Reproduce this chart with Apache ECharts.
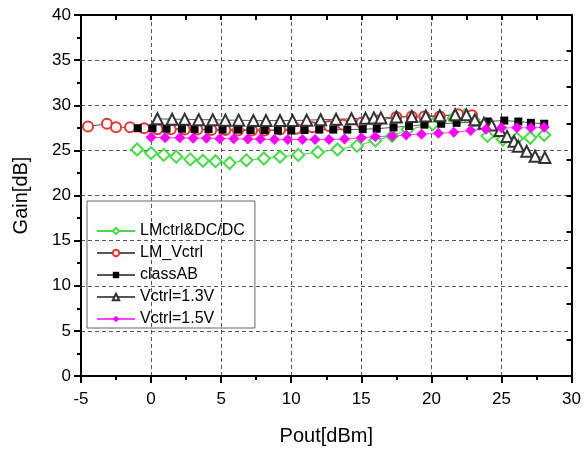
<!DOCTYPE html>
<html>
<head>
<meta charset="utf-8">
<script src="https://cdn.jsdelivr.net/npm/echarts@6/dist/echarts.min.js"></script>
<style>
  html, body { margin: 0; padding: 0; background: #fff; }
  #chart { width: 584px; height: 451px; }
</style>
</head>
<body>
<div id="chart"></div>
<script>
// Pout[dBm], Gain[dB]
var lmDcdc = [[-1, 25.1], [0, 24.7], [0.9, 24.5], [1.8, 24.3], [2.8, 24.0], [3.7, 23.85], [4.6, 23.8], [5.6, 23.6],
  [6.8, 23.9], [8.05, 24.1], [9.2, 24.3], [10.5, 24.5], [11.9, 24.8], [13.3, 25.1], [14.7, 25.5], [16.0, 26.1],
  [17.2, 26.6], [18.3, 27.3], [20.1, 27.9], [21.6, 28.6], [22.4, 28.9], [23.0, 28.4], [24.0, 26.6], [25.1, 26.2],
  [26.1, 26.3], [27.05, 26.4], [28.05, 26.7]];
var lmVctrl = [[-4.5, 27.65], [-3.15, 27.95], [-2.5, 27.55], [-1.5, 27.55], [-0.5, 27.45], [0.45, 27.35], [1.4, 27.35],
  [2.4, 27.3], [3.3, 27.3], [4.3, 27.25], [5.3, 27.25], [6.2, 27.2], [7.2, 27.2], [8.1, 27.2], [9.2, 27.3],
  [10.35, 27.4], [11.5, 27.55], [12.7, 27.7], [13.7, 27.85], [15.0, 28.05], [16.2, 28.3], [17.5, 28.7],
  [18.6, 28.75], [19.5, 28.75], [20.6, 28.75], [21.9, 29.0], [22.9, 28.9]];
var classAB = [[-0.95, 27.45], [0.1, 27.45], [1.1, 27.4], [2.2, 27.4], [3.1, 27.35], [4.1, 27.35], [5.1, 27.3],
  [6.2, 27.3], [7.1, 27.25], [8.1, 27.25], [9.05, 27.2], [10, 27.2], [10.95, 27.25], [12, 27.3], [13, 27.3],
  [14, 27.3], [15.1, 27.35], [16.1, 27.4], [17.3, 27.55], [18.4, 27.7], [19.5, 27.85], [20.7, 27.95],
  [21.8, 28.05], [23, 28.1], [24, 28.2], [25.2, 28.3], [26.2, 28.2], [27.1, 28.05], [28.05, 27.95]];
var vctrl13 = [[0.45, 28.5], [1.5, 28.45], [2.4, 28.45], [3.4, 28.4], [4.4, 28.4], [5.3, 28.35], [6.25, 28.35],
  [7.3, 28.3], [8.2, 28.3], [9.2, 28.3], [10.1, 28.3], [11.1, 28.35], [12.1, 28.4], [13.2, 28.45], [14.3, 28.5],
  [15.3, 28.55], [15.9, 28.6], [16.4, 28.6], [17.5, 28.7], [18.6, 28.75], [19.6, 28.8], [20.6, 28.85],
  [21.7, 28.95], [22.5, 28.95], [23.1, 28.4], [23.75, 28.0], [24.3, 27.8], [24.9, 27.2], [25.4, 26.55],
  [25.9, 26.0], [26.2, 25.45], [26.8, 24.9], [27.4, 24.35], [28.1, 24.2]];
var vctrl15 = [[0, 26.45], [1.0, 26.4], [2.05, 26.4], [3.0, 26.35], [3.95, 26.35], [4.9, 26.3], [5.9, 26.3],
  [6.9, 26.25], [7.8, 26.25], [8.8, 26.2], [9.75, 26.2], [10.8, 26.2], [11.7, 26.2], [12.7, 26.2], [13.8, 26.25],
  [15.0, 26.4], [16.0, 26.5], [17.2, 26.6], [18.2, 26.7], [19.3, 26.8], [20.5, 26.9], [21.6, 27.0], [22.8, 27.2],
  [23.9, 27.35], [25.0, 27.5], [26.1, 27.5], [27.1, 27.5], [28.05, 27.55]];

var seriesNames = ['LMctrl&DC/DC', 'LM_Vctrl', 'classAB', 'Vctrl=1.3V', 'Vctrl=1.5V'];

var chart = echarts.init(document.getElementById('chart'));
var font = 'Liberation Sans, Arial, sans-serif';

function line(name, data, symbol, size, color, lineColor) {
  return {
    name: name,
    type: 'line',
    data: data,
    symbol: symbol,
    symbolSize: size,
    itemStyle: { color: color, borderWidth: 1 },
    lineStyle: { color: lineColor, width: 1 },
    animation: false
  };
}

chart.setOption({
  backgroundColor: '#fff',
  textStyle: { fontFamily: font },
  grid: { left: 81, right: 11, top: 15, bottom: 74 },
  legend: {
    orient: 'vertical',
    left: 87,
    top: 201,
    width: 172,
    padding: [22, 10, 1, 9],
    itemWidth: 38,
    itemHeight: 8,
    itemGap: 6,
    borderColor: '#666',
    borderWidth: 1,
    textStyle: { fontSize: 16, color: '#000', fontFamily: font },
    data: seriesNames
  },
  xAxis: [{
    type: 'value', min: -5, max: 30, interval: 5,
    name: 'Pout[dBm]', nameLocation: 'middle', nameGap: 50,
    nameTextStyle: { fontSize: 20, color: '#000' },
    axisLine: { onZero: false, lineStyle: { color: '#000', width: 2 } },
    axisTick: { inside: false, length: 7, lineStyle: { color: '#000', width: 2 } },
    minorTick: { show: true, splitNumber: 2, length: 4, lineStyle: { color: '#000', width: 2 } },
    axisLabel: { fontSize: 17, color: '#000', margin: 15 },
    splitLine: { show: true, lineStyle: { color: '#555', type: [4, 3], width: 1 } }
  }, {
    type: 'value', min: -5, max: 30, interval: 2.5, position: 'top',
    axisLine: { onZero: false, lineStyle: { color: '#000', width: 2 } },
    axisTick: { inside: true, length: 5, lineStyle: { color: '#000', width: 2 } },
    axisLabel: { show: false },
    splitLine: { show: false }
  }],
  yAxis: [{
    type: 'value', min: 0, max: 40, interval: 5,
    name: 'Gain[dB]', nameLocation: 'middle', nameGap: 50,
    nameTextStyle: { fontSize: 20, color: '#000' },
    axisLine: { onZero: false, lineStyle: { color: '#000', width: 2 } },
    axisTick: { inside: false, length: 7, lineStyle: { color: '#000', width: 2 } },
    minorTick: { show: true, splitNumber: 2, length: 4, lineStyle: { color: '#000', width: 2 } },
    axisLabel: { fontSize: 17, color: '#000', margin: 10 },
    splitLine: { show: true, lineStyle: { color: '#555', type: [4, 3], width: 1 } }
  }, {
    type: 'value', min: 0, max: 40, interval: 4, position: 'right',
    axisLine: { show: true, onZero: false, lineStyle: { color: '#000', width: 2 } },
    axisTick: { show: true, inside: true, length: 5, lineStyle: { color: '#000', width: 2 } },
    axisLabel: { show: false },
    splitLine: { show: false }
  }],
  series: [
    line(seriesNames[0], lmDcdc, 'emptyDiamond', 12, '#44dd44', '#44dd44'),
    line(seriesNames[1], lmVctrl, 'emptyCircle', 10, '#ee3333', '#555'),
    line(seriesNames[2], classAB, 'rect', 8, '#000', '#555'),
    line(seriesNames[3], vctrl13, 'emptyTriangle', 11, '#333', '#555'),
    line(seriesNames[4], vctrl15, 'diamond', 11, '#ff00ff', '#ff44ff')
  ]
});
</script>
</body>
</html>
